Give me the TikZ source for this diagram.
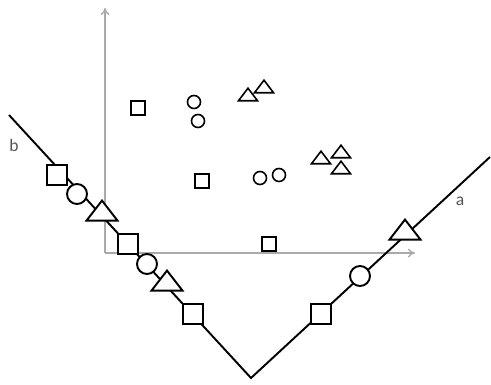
\documentclass[tikz,border=0pt]{standalone}
\usepackage{fontspec}
\setsansfont{Carlito}
\usepackage{tikz}
\usetikzlibrary{shapes.geometric, arrows.meta}
\definecolor{axisgray}{RGB}{170, 170, 170}
\definecolor{labelgray}{RGB}{85, 85, 85}

\begin{document}
\begin{tikzpicture}[
    x=0.02cm, y=-0.02cm,
    axis/.style={draw=axisgray, line width=0.8pt, -{To[length=4pt,width=5pt]}},
    ray/.style={draw=black, line width=1.1pt},
    bigsq/.style={rectangle, draw=black, fill=white, line width=1.1pt,
                  minimum size=0.4cm, inner sep=0pt},
    bigci/.style={circle, draw=black, fill=white, line width=1.1pt,
                  minimum size=0.4cm, inner sep=0pt},
    bigtr/.style={isosceles triangle, isosceles triangle stretches,
                  shape border rotate=90, draw=black, fill=white,
                  line width=1.1pt, minimum width=0.62cm, minimum height=0.4cm,
                  inner sep=0pt},
    smsq/.style={rectangle, draw=black, fill=white, line width=0.9pt,
                 minimum size=0.27cm, inner sep=0pt},
    smci/.style={circle, draw=black, fill=white, line width=0.9pt,
                 minimum size=0.26cm, inner sep=0pt},
    smtr/.style={isosceles triangle, isosceles triangle stretches,
                 shape border rotate=90, draw=black, fill=white,
                 line width=0.9pt, minimum width=0.38cm, minimum height=0.25cm,
                 inner sep=0pt},
    lbl/.style={font=\sffamily\fontsize{10}{12}\selectfont, text=labelgray}
]
\useasboundingbox (0,0) rectangle (491,385);

% axes
\coordinate (origin) at (105,253);
\coordinate (ytop)   at (105,8);
\coordinate (xend)   at (415,253);
\draw[axis] (origin) -- (ytop);
\draw[axis] (origin) -- (xend);

% the two rays
\coordinate (bstart) at (9,115);
\coordinate (vertex) at (251,378);
\coordinate (astart) at (490,157);
\draw[ray] (bstart) -- (vertex) -- (astart);

\node[lbl] (blabel) at (14,145) {b};
\node[lbl] (alabel) at (460,201) {a};

% points on ray b
\node[bigsq] (b1) at (57,175)  {};
\node[bigci] (b2) at (77,194)  {};
\node[bigtr] (b3) at (102,213) {};
\node[bigsq] (b4) at (128,244) {};
\node[bigci] (b5) at (147,264) {};
\node[bigtr] (b6) at (167,283) {};
\node[bigsq] (b7) at (193,314) {};

% points on ray a
\node[bigsq] (a1) at (321,314) {};
\node[bigci] (a2) at (360,276) {};
\node[bigtr] (a3) at (405,232) {};

% scattered points
\node[smsq] (s1) at (138,108) {};
\node[smsq] (s2) at (202,181) {};
\node[smsq] (s3) at (269,244) {};
\node[smci] (c1) at (194,102) {};
\node[smci] (c2) at (198,121) {};
\node[smci] (c3) at (260,178) {};
\node[smci] (c4) at (279,175) {};
\node[smtr] (t1) at (248,96)  {};
\node[smtr] (t2) at (264,88)  {};
\node[smtr] (t3) at (321,159) {};
\node[smtr] (t4) at (341,153) {};
\node[smtr] (t5) at (341,169) {};

\end{tikzpicture}
\end{document}
